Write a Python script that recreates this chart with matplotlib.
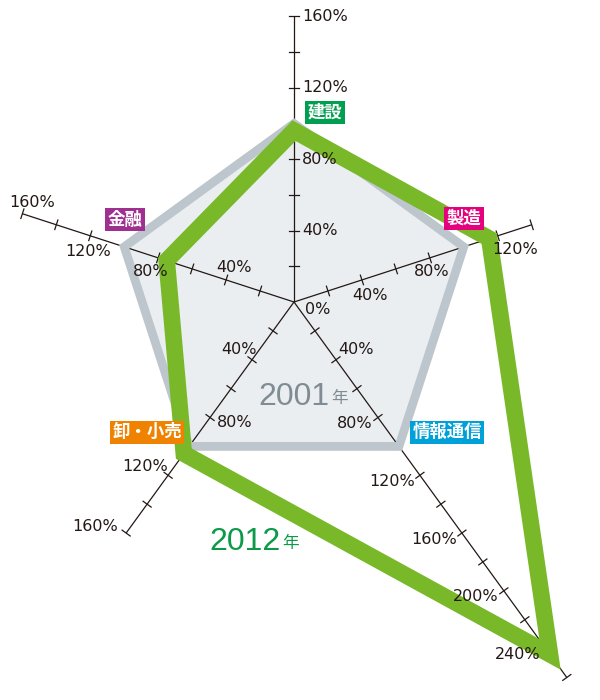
import numpy as np
import matplotlib.pyplot as plt
from matplotlib.patches import Polygon

# 業種別レーダーチャート (2001年=100%)
categories = ["建設", "製造", "情報通信", "卸・小売", "金融"]
angles_deg = [90, 18, -54, -126, 162]
values_2001 = [100, 100, 100, 100, 100]
values_2012 = [96, 115, 244, 105, 75]
axis_max = [160, 140, 260, 160, 160]
label_colors = ["#009e4f", "#e5007e", "#00a0d9", "#ef8200", "#a0308f"]
tick_values = {
    "建設": [40, 80, 120, 160],
    "製造": [40, 80, 120],
    "情報通信": [40, 80, 120, 160, 200, 240],
    "卸・小売": [40, 80, 120, 160],
    "金融": [40, 80, 120, 160],
}

# layout (pixels, y down) -- offsets of tick labels from their tick
tick_label_pos = {
    "建設": [(8, 0, "left")] * 4,
    "製造": [(8, 16, "center"), (2, 14, "center"), (17, 14, "center")],
    "情報通信": [(2, -10, "left")] + [(-5, 6, "right")] * 5,
    "卸・小売": [(5, -10, "right"), (7, 5, "left"), (0, -9, "right"), (-8, -7, "right")],
    "金融": [(8, -12, "center"), (-8, 14, "center"), (-2, 16, "center"), (10, -11, "center")],
}
box_pos = [(31, -11), (0, -28), (48, -14), (-42, -14), (1, -27)]

W, H, DPI = 600, 700, 100
PX = 1.785          # pixels per percent
CX, CY = 294, 302   # centre of the chart in pixels
INK = "#231815"
CJK = ["Noto Sans CJK JP", "DejaVu Sans"]


def to_xy(values):
    a = np.radians(angles_deg)
    v = np.asarray(values, dtype=float)
    return v * np.cos(a), v * np.sin(a)


def main():
    fig = plt.figure(figsize=(W / DPI, H / DPI), dpi=DPI)
    ax = fig.add_axes([0, 0, 1, 1])
    ax.set_xlim(-CX / PX, (W - CX) / PX)
    ax.set_ylim(-(H - CY) / PX, CY / PX)
    ax.axis("off")

    # 2001 pentagon: fill under the axes, outline above
    x01, y01 = to_xy(values_2001)
    xy01 = np.column_stack([x01, y01])
    ax.add_patch(Polygon(xy01, closed=True, facecolor="#eaeef1", edgecolor="none", zorder=1))
    ax.add_patch(Polygon(xy01, closed=True, fill=False, edgecolor="#bdc6cc",
                         lw=6.3, joinstyle="miter", zorder=3))

    # 2012 outline
    x12, y12 = to_xy(values_2012)
    ax.add_patch(Polygon(np.column_stack([x12, y12]), closed=True, fill=False,
                         edgecolor="#79b929", lw=12, joinstyle="miter", zorder=4))

    # axes with ticks every 20%
    h = 5 / PX
    for i, name in enumerate(categories):
        a = np.radians(angles_deg[i])
        ux, uy = np.cos(a), np.sin(a)
        ax.plot([0, axis_max[i] * ux], [0, axis_max[i] * uy], color=INK, lw=0.9,
                solid_capstyle="butt", zorder=2)
        for v in range(20, axis_max[i] + 1, 20):
            ax.plot([v * ux + h * uy, v * ux - h * uy], [v * uy - h * ux, v * uy + h * ux],
                    color=INK, lw=0.9, zorder=2)
        for v, (dx, dy, ha) in zip(tick_values[name], tick_label_pos[name]):
            ax.annotate(f"{v}%", (v * ux, v * uy), xytext=(dx, -dy), textcoords="offset pixels",
                        ha=ha, va="center", fontsize=11.5, color=INK, family="DejaVu Sans", zorder=6)

        # category label box at the 100% point
        bx, by = box_pos[i]
        ax.annotate(name, (100 * ux, 100 * uy), xytext=(bx, -by), textcoords="offset pixels",
                    ha="center", va="center", fontsize=12.5, color="white", weight="bold",
                    family=CJK, zorder=7,
                    bbox=dict(boxstyle="square,pad=0.15", fc=label_colors[i], ec="none"))

    ax.annotate("0%", (0, 0), xytext=(11, -8), textcoords="offset pixels",
                ha="left", va="center", fontsize=11.5, color=INK, zorder=6)

    # year captions
    ax.annotate("2001", (0, 0), xytext=(330 - CX, -(405 - CY)), textcoords="offset pixels",
                ha="right", va="baseline", fontsize=23, color="#808c94", family="Liberation Sans")
    ax.annotate("年", (0, 0), xytext=(331 - CX, -(403 - CY)), textcoords="offset pixels",
                ha="left", va="baseline", fontsize=12, color="#808c94", family=CJK)
    ax.annotate("2012", (0, 0), xytext=(281 - CX, -(550 - CY)), textcoords="offset pixels",
                ha="right", va="baseline", fontsize=23, color="#0a9a48", family="Liberation Sans")
    ax.annotate("年", (0, 0), xytext=(282 - CX, -(548 - CY)), textcoords="offset pixels",
                ha="left", va="baseline", fontsize=12, color="#0a9a48", family=CJK)

    fig.savefig("out.png", dpi=DPI)


if __name__ == "__main__":
    main()
